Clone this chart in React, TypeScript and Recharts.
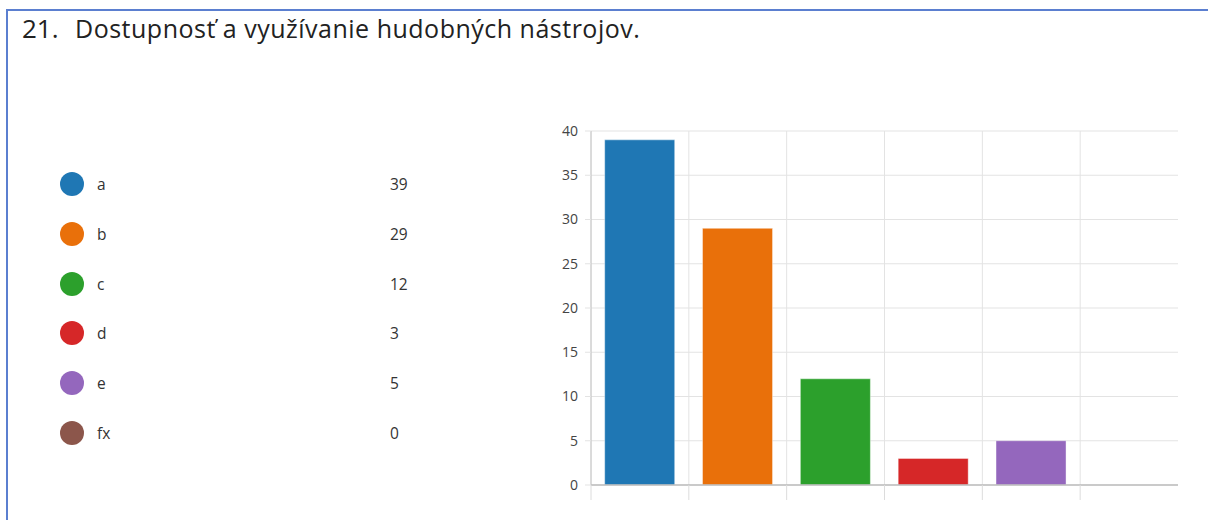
import React from "react"
import { BarChart, Bar, Cell, XAxis, YAxis, CartesianGrid } from "recharts"

const categories = ["a", "b", "c", "d", "e", "fx"]
const counts = [39, 29, 12, 3, 5, 0]
const colors = ["#1f77b4", "#e9700a", "#2ca02c", "#d62728", "#9467bd", "#8c564b"]
const yTicks = [0, 5, 10, 15, 20, 25, 30, 35, 40]

const FONT = "'Open Sans', 'Noto Sans', sans-serif"

const data = categories.map((name, i) => ({ name, value: counts[i] }))

// the original marks band boundaries, not band centres: draw each tick at the band's left edge
const BoundaryTick = (props: any) => {
  const { x, y, payload } = props
  const half = payload?.offset ?? 0
  return <line x1={x - half} x2={x - half} y1={y} y2={y + 15} stroke="#dcdcdc" />
}

export default function App() {
  return (
    <div
      style={{
        position: "fixed",
        left: 0,
        top: 0,
        width: 1208,
        height: 520,
        background: "#fff",
        fontFamily: FONT,
        color: "#333",
        overflow: "hidden",
      }}
    >
      {/* frame */}
      <div
        style={{
          position: "absolute",
          left: 6,
          top: 9,
          width: 1230,
          height: 560,
          borderTop: "2px solid #5b7fd0",
          borderLeft: "2px solid #5b7fd0",
        }}
      />

      {/* title */}
      <div style={{ position: "absolute", left: 22, top: 15, fontSize: 26, lineHeight: 1, color: "#222" }}>21.</div>
      <div
        style={{
          position: "absolute",
          left: 75,
          top: 16,
          fontSize: 25,
          lineHeight: 1,
          letterSpacing: 0.5,
          color: "#222",
          whiteSpace: "nowrap",
        }}
      >
        Dostupnosť a využívanie hudobných nástrojov.
      </div>

      {/* legend */}
      {data.map((d, i) => (
        <div
          key={d.name}
          style={{
            position: "absolute",
            left: 60,
            top: 172 + i * 49.8,
            height: 24,
            width: 360,
            fontSize: 15.5,
          }}
        >
          <span
            style={{
              position: "absolute",
              left: 0,
              top: 0,
              width: 24,
              height: 24,
              borderRadius: 12,
              background: colors[i],
            }}
          />
          <span style={{ position: "absolute", left: 37, top: 1, lineHeight: "22px" }}>{d.name}</span>
          <span style={{ position: "absolute", left: 330, top: 1, lineHeight: "22px" }}>{d.value}</span>
        </div>
      ))}

      <div style={{ position: "absolute", left: 0, top: 0 }}>
        <BarChart
          width={1208}
          height={520}
          data={data}
          margin={{ top: 131, right: 30, bottom: 19, left: 541 }}
          barCategoryGap="14%"
        >
          <CartesianGrid
            stroke="#e3e3e3"
            verticalCoordinatesGenerator={({ offset }: any) =>
              categories.map((_, i) => offset.left + (i * offset.width) / categories.length)
            }
          />
          <XAxis
            dataKey="name"
            interval={0}
            tick={<BoundaryTick />}
            tickSize={0}
            tickMargin={0}
            tickLine={false}
            height={16}
            axisLine={{ stroke: "#bdbdbd", strokeWidth: 1.5 }}
          />
          <YAxis
            domain={[0, 40]}
            ticks={yTicks}
            width={50}
            tickSize={6}
            tickMargin={7}
            tick={{ fontSize: 14, fill: "#444", fontFamily: FONT }}
            tickLine={{ stroke: "#e3e3e3" }}
            axisLine={{ stroke: "#c4c4c4" }}
          />
          <Bar dataKey="value" isAnimationActive={false} stroke="#ffffff" strokeOpacity={0.4}>
            {data.map((d, i) => (
              <Cell key={d.name} fill={colors[i]} />
            ))}
          </Bar>
        </BarChart>
      </div>
    </div>
  )
}
